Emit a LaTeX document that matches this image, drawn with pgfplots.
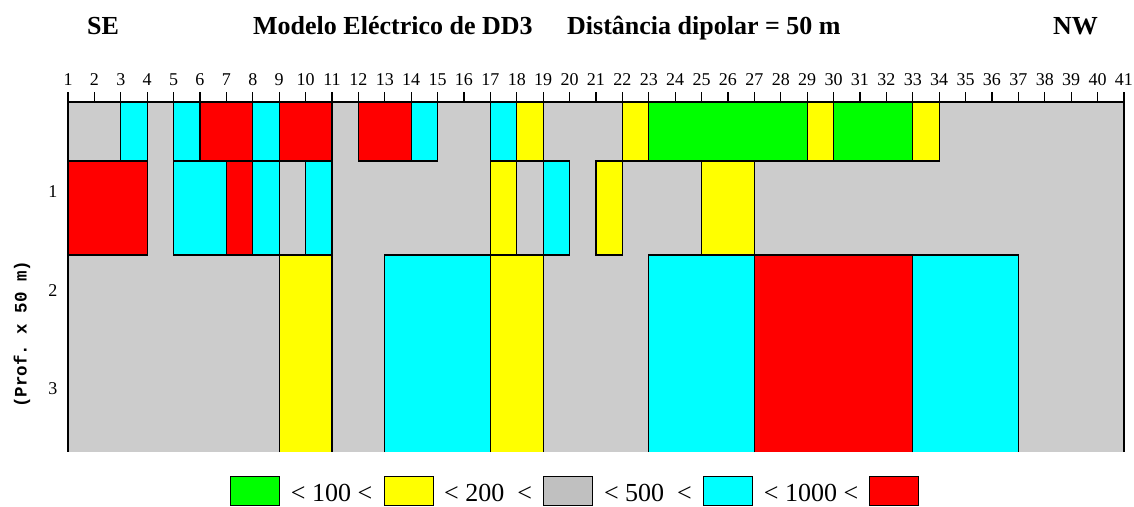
\documentclass[border=0pt]{standalone}
\usepackage{pgfplots}
\pgfplotsset{compat=1.18}
\usepackage{fontspec}
\setmainfont{Liberation Serif}
\setmonofont{Liberation Mono}
\definecolor{cgray}{HTML}{CCCCCC}
\definecolor{lgray}{HTML}{C0C0C0}
\definecolor{cgreen}{HTML}{00FF00}
\definecolor{cyel}{HTML}{FFFF00}
\definecolor{ccyan}{HTML}{00FFFF}
\definecolor{cred}{HTML}{FF0000}
% closed cell: x1 x2 ytop ybottom colour
\newcommand{\cell}[5]{\addplot[fill=#5, draw=black, line width=1.3pt, line join=miter, forget plot] coordinates {(#1,#3) (#2,#3) (#2,#4) (#1,#4)} --cycle;}
% bottom cell (open at the bottom edge)
\newcommand{\bcell}[5]{\addplot[fill=#5, draw=black, line width=1.3pt, line join=miter, forget plot] coordinates {(#1,#4) (#1,#3) (#2,#3) (#2,#4)};}
\begin{document}
\begin{tikzpicture}
\path[use as bounding box] (0pt,0pt) rectangle (1134pt,-506pt);
\begin{axis}[
 at={(68pt,-102pt)}, anchor=north west,
 scale only axis, width=1056pt, height=350pt,
 xmin=1, xmax=41, ymin=0.1, ymax=3.636, y dir=reverse,
 axis x line*=top, axis y line*=left,
 axis on top, clip=false,
 xtick={1,...,41}, ytick={1,2,3},
 tick align=outside, major tick length=10pt,
 x tick style={black, line width=1.3pt},
 y tick style={draw=none},
 axis line style={black, line width=1.3pt},
 tick label style={font=\fontsize{18}{21}\selectfont},
 xticklabel style={yshift=3pt},
 yticklabel style={xshift=3pt},
 /pgf/number format/assume math mode=true,
 legend columns=5,
 legend style={at={(0.1534,-0.154)}, anchor=south west, draw=none, fill=none, inner sep=0pt, /tikz/column sep=11.3pt, nodes={inner sep=0pt, font=\fontsize{26}{30}\selectfont}},
 legend image code/.code={\fill[#1] (0pt,-11.5pt) rectangle (49pt,17.5pt);},
]
% background (resistivity 200-500)
\addplot[fill=cgray, draw=none, forget plot] coordinates {(1,0.1) (41,0.1) (41,3.636) (1,3.636)} --cycle;
% row 1
\cell{3}{4}{0.1}{0.697}{ccyan}
\cell{5}{6}{0.1}{0.697}{ccyan}
\cell{6}{8}{0.1}{0.697}{cred}
\cell{8}{9}{0.1}{0.697}{ccyan}
\cell{9}{11}{0.1}{0.697}{cred}
\cell{12}{14}{0.1}{0.697}{cred}
\cell{14}{15}{0.1}{0.697}{ccyan}
\cell{17}{18}{0.1}{0.697}{ccyan}
\cell{18}{19}{0.1}{0.697}{cyel}
\cell{22}{23}{0.1}{0.697}{cyel}
\cell{23}{29}{0.1}{0.697}{cgreen}
\cell{29}{30}{0.1}{0.697}{cyel}
\cell{30}{33}{0.1}{0.697}{cgreen}
\cell{33}{34}{0.1}{0.697}{cyel}
% row 2
\cell{1}{4}{0.697}{1.646}{cred}
\cell{5}{7}{0.697}{1.646}{ccyan}
\cell{7}{8}{0.697}{1.646}{cred}
\cell{8}{9}{0.697}{1.646}{ccyan}
\cell{10}{11}{0.697}{1.646}{ccyan}
\cell{17}{18}{0.697}{1.646}{cyel}
\cell{19}{20}{0.697}{1.646}{ccyan}
\cell{21}{22}{0.697}{1.646}{cyel}
\cell{25}{27}{0.697}{1.646}{cyel}
% row 3
\bcell{9}{11}{1.646}{3.636}{cyel}
\bcell{13}{17}{1.646}{3.636}{ccyan}
\bcell{17}{19}{1.646}{3.636}{cyel}
\bcell{23}{27}{1.646}{3.636}{ccyan}
\bcell{27}{33}{1.646}{3.636}{cred}
\bcell{33}{37}{1.646}{3.636}{ccyan}
\draw[black, line width=1.3pt] (axis cs:41,0.1) -- (axis cs:41,3.636);
% legend
\addlegendimage{fill=cgreen}
\addlegendentry{< 100 <}
\addlegendimage{fill=cyel}
\addlegendentry{< 200\ \ <}
\addlegendimage{fill=lgray}
\addlegendentry{< 500\ \ <}
\addlegendimage{fill=ccyan}
\addlegendentry{< 1000 <}
\addlegendimage{fill=cred}
\addlegendentry{}
\end{axis}
\node[anchor=base west, inner sep=0pt, font=\bfseries\fontsize{26}{30}\selectfont] at (87pt,-34pt) {SE};
\node[anchor=base west, inner sep=0pt, font=\bfseries\fontsize{26}{30}\selectfont] at (253pt,-34pt) {Modelo Eléctrico de DD3};
\node[anchor=base west, inner sep=0pt, font=\bfseries\fontsize{26}{30}\selectfont] at (567pt,-34pt) {Distância dipolar = 50 m};
\node[anchor=base west, inner sep=0pt, font=\bfseries\fontsize{26}{30}\selectfont] at (1053pt,-34pt) {NW};
\node[rotate=90, inner sep=0pt, font=\ttfamily\bfseries\fontsize{17.5}{20}\selectfont] at (22pt,-334pt) {(Prof.\ x 50 m)};
\end{tikzpicture}
\end{document}
